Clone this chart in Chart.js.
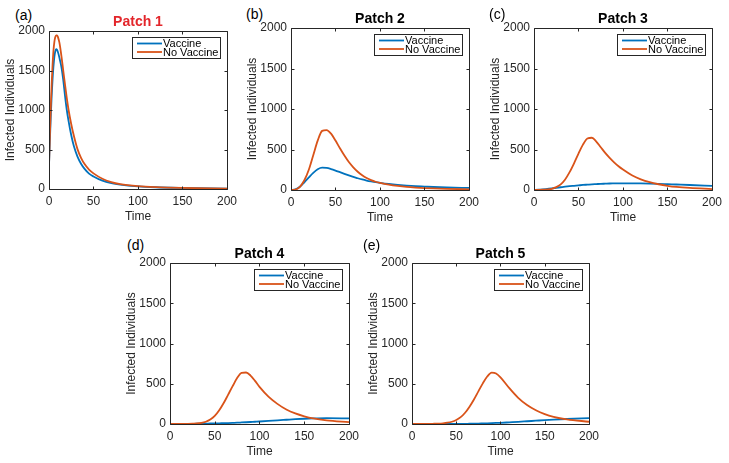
<!DOCTYPE html>
<html lang="en">
<head>
  <meta charset="UTF-8" />
  <title>Infected individuals per patch</title>
  <script src="https://cdn.jsdelivr.net/npm/chart.js"></script>
  <style>
    body {
      margin: 0;
      background: #ffffff;
    }
    #fig {
      position: relative;
      width: 729px;
      height: 463px;
      overflow: hidden;
      background: #ffffff;
      font-family: 'Liberation Sans', Arial, sans-serif;
    }
    .tag {
      position: absolute;
      font-size: 14px;
      line-height: 14px;
      color: #000000;
    }
  </style>
</head>
<body>
  <div id="fig"></div>

  <script>
    // ---- data ----
    const seriesLabels = ['Vaccine', 'No Vaccine'];
    const panelTitles = ['Patch 1', 'Patch 2', 'Patch 3', 'Patch 4', 'Patch 5'];
    const panelTags = ['(a)', '(b)', '(c)', '(d)', '(e)'];
    const xTicks = [0, 50, 100, 150, 200];
    const yTicks = [0, 500, 1000, 1500, 2000];

    const time1 = [0, 1, 2, 3, 4, 5, 6, 7, 8, 9, 10, 11, 12, 14, 16, 18, 20, 22, 25, 28, 32, 36, 40, 45, 50, 60, 70, 80, 100, 120, 150, 200];
    const vaccine1 = [300, 620, 920, 1180, 1390, 1550, 1670, 1740, 1770, 1762, 1735, 1695, 1645, 1540, 1380, 1180, 1000, 860, 680, 540, 410, 320, 255, 195, 158, 105, 74, 55, 33, 22, 14, 6];
    const noVaccine1 = [300, 680, 1030, 1330, 1570, 1750, 1860, 1920, 1945, 1945, 1925, 1885, 1835, 1680, 1500, 1320, 1150, 1000, 820, 670, 505, 395, 315, 245, 198, 130, 88, 62, 36, 23, 13, 6];

    const time2to5 = [0, 5, 10, 15, 20, 25, 30, 35, 40, 45, 50, 55, 60, 65, 70, 75, 80, 85, 90, 95, 100, 110, 120, 130, 140, 150, 160, 175, 200];
    const vaccine2 = [0, 8, 40, 95, 155, 212, 256, 276, 272, 258, 240, 220, 200, 180, 161, 145, 130, 117, 106, 96, 88, 74, 63, 54, 47, 42, 37, 31, 25];
    const noVaccine2 = [0, 6, 40, 120, 250, 430, 610, 730, 740, 695, 610, 515, 425, 345, 280, 225, 182, 148, 122, 102, 88, 66, 50, 38, 30, 24, 19, 14, 8];
    const vaccine3 = [0, 3, 8, 14, 20, 27, 34, 41, 47, 52, 57, 62, 66, 70, 73, 76, 78, 80, 81, 82, 82, 82, 81, 79, 76, 72, 68, 62, 50];
    const noVaccine3 = [0, 1, 3, 7, 15, 35, 70, 130, 220, 330, 450, 560, 635, 645, 598, 528, 458, 397, 342, 293, 252, 182, 132, 96, 71, 52, 38, 25, 12];
    const vaccine4 = [0, 0, 0, 1, 1, 2, 3, 4, 5, 6, 7, 9, 10, 12, 14, 16, 19, 22, 25, 28, 31, 38, 46, 53, 60, 65, 69, 72, 70];
    const noVaccine4 = [0, 0, 0, 0, 1, 3, 6, 13, 28, 55, 100, 170, 260, 365, 470, 570, 635, 640, 602, 535, 462, 340, 250, 180, 131, 96, 70, 46, 24];
    const vaccine5 = [0, 0, 0, 0, 0, 0, 0, 0, 1, 1, 1, 1, 2, 3, 4, 5, 7, 9, 11, 13, 15, 21, 27, 34, 41, 48, 54, 62, 72];
    const noVaccine5 = [0, 0, 0, 1, 1, 3, 5, 9, 16, 28, 50, 85, 140, 215, 305, 405, 505, 590, 638, 628, 580, 445, 325, 235, 170, 123, 90, 58, 28];

    const panelData = [
      { time: time1, vaccine: vaccine1, noVaccine: noVaccine1 },
      { time: time2to5, vaccine: vaccine2, noVaccine: noVaccine2 },
      { time: time2to5, vaccine: vaccine3, noVaccine: noVaccine3 },
      { time: time2to5, vaccine: vaccine4, noVaccine: noVaccine4 },
      { time: time2to5, vaccine: vaccine5, noVaccine: noVaccine5 }
    ];

    // ---- layout (page pixels of each plot box) ----
    const panelLayout = [
      { l: 49, t: 31, r: 230, b: 189, tagX: 15, tagY: 8 },
      { l: 291, t: 28, r: 472, b: 190, tagX: 246, tagY: 7 },
      { l: 534, t: 28, r: 715, b: 190, tagX: 489, tagY: 7 },
      { l: 170, t: 263, r: 352, b: 424, tagX: 127, tagY: 238 },
      { l: 412, t: 263, r: 592, b: 424, tagX: 363, tagY: 238 }
    ];
    const M = { left: 50, top: 30, right: 12, bottom: 40 };
    const FONT = "'Liberation Sans', Arial, sans-serif";
    const AXIS = '#262626';
    const BLUE = '#0072BD';
    const RED = '#D95319';

    // box with inward ticks, title and legend like a matlab axes
    const matlabAxes = {
      id: 'matlabAxes',
      afterDatasetsDraw(chart, args, opts) {
        const { ctx, chartArea: a, scales: { x, y } } = chart;
        ctx.save();
        ctx.strokeStyle = AXIS;
        ctx.lineWidth = 1;
        ctx.beginPath();
        const L = Math.round(a.left) + 0.5, R = Math.round(a.right) + 0.5;
        const T = Math.round(a.top) + 0.5, B = Math.round(a.bottom) + 0.5;
        ctx.rect(L, T, R - L, B - T);
        for (const t of x.ticks) {
          const px = Math.round(x.getPixelForValue(t.value)) + 0.5;
          ctx.moveTo(px, B); ctx.lineTo(px, B - 3);
          ctx.moveTo(px, T); ctx.lineTo(px, T + 3);
        }
        for (const t of y.ticks) {
          const py = Math.round(y.getPixelForValue(t.value)) + 0.5;
          ctx.moveTo(L, py); ctx.lineTo(L + 3, py);
          ctx.moveTo(R, py); ctx.lineTo(R - 3, py);
        }
        ctx.stroke();

        // title
        ctx.font = `bold 14px ${FONT}`;
        ctx.fillStyle = opts.titleColor;
        ctx.textAlign = 'center';
        ctx.textBaseline = 'alphabetic';
        ctx.fillText(opts.title, (a.left + a.right) / 2, a.top - 5);

        // legend
        ctx.font = `11px ${FONT}`;
        const sets = chart.data.datasets;
        const tw = Math.max(...sets.map(d => ctx.measureText(d.label).width));
        const lw = Math.round(31 + tw + 2), lh = 21;
        const lx = Math.round(a.right) - 7 - lw, ly = Math.round(a.top) + 6;
        ctx.fillStyle = '#ffffff';
        ctx.fillRect(lx, ly, lw, lh);
        ctx.strokeStyle = AXIS;
        ctx.strokeRect(lx + 0.5, ly + 0.5, lw, lh);
        ctx.textAlign = 'left';
        ctx.textBaseline = 'middle';
        sets.forEach((d, i) => {
          const yy = ly + 6.5 + i * 8.5;
          ctx.strokeStyle = d.borderColor;
          ctx.lineWidth = 1.8;
          ctx.beginPath();
          ctx.moveTo(lx + 5, yy);
          ctx.lineTo(lx + 30, yy);
          ctx.stroke();
          ctx.fillStyle = '#000000';
          ctx.fillText(d.label, lx + 31, yy + 0.5);
        });
        ctx.restore();
      }
    };

    const fig = document.getElementById('fig');

    panelData.forEach((p, i) => {
      const L = panelLayout[i];
      const w = L.r - L.l + M.left + M.right;
      const h = L.b - L.t + M.top + M.bottom;

      const tag = document.createElement('div');
      tag.className = 'tag';
      tag.style.left = L.tagX + 'px';
      tag.style.top = L.tagY + 'px';
      tag.textContent = panelTags[i];
      fig.appendChild(tag);

      const cv = document.createElement('canvas');
      cv.width = w;
      cv.height = h;
      cv.style.cssText = `position:absolute;left:${L.l - M.left}px;top:${L.t - M.top}px;width:${w}px;height:${h}px`;
      fig.appendChild(cv);

      const tickFont = { family: FONT, size: 12 };

      new Chart(cv.getContext('2d'), {
        type: 'line',
        data: {
          datasets: [
            {
              label: seriesLabels[0],
              data: p.time.map((t, k) => ({ x: t, y: p.vaccine[k] })),
              borderColor: BLUE,
              borderWidth: 1.8,
              pointRadius: 0,
              fill: false,
              cubicInterpolationMode: 'monotone',
              order: 1
            },
            {
              label: seriesLabels[1],
              data: p.time.map((t, k) => ({ x: t, y: p.noVaccine[k] })),
              borderColor: RED,
              borderWidth: 1.8,
              pointRadius: 0,
              fill: false,
              cubicInterpolationMode: 'monotone',
              order: 0
            }
          ]
        },
        options: {
          responsive: false,
          animation: false,
          devicePixelRatio: 1,
          layout: { padding: { left: 0, top: M.top, right: M.right, bottom: 0 } },
          plugins: {
            legend: { display: false },
            tooltip: { enabled: false },
            matlabAxes: { title: panelTitles[i], titleColor: i === 0 ? '#E3262B' : '#000000' }
          },
          scales: {
            x: {
              type: 'linear',
              min: 0,
              max: 200,
              afterBuildTicks: s => { s.ticks = xTicks.map(v => ({ value: v })); },
              afterFit: s => { s.height = M.bottom; },
              grid: { display: false, drawTicks: false },
              border: { display: false },
              ticks: { color: AXIS, font: tickFont, padding: 5, maxRotation: 0, autoSkip: false, callback: v => String(v) },
              title: { display: true, text: 'Time', color: AXIS, font: tickFont, padding: { top: 0, bottom: 5 } }
            },
            y: {
              type: 'linear',
              min: 0,
              max: 2000,
              afterBuildTicks: s => { s.ticks = yTicks.map(v => ({ value: v })); },
              afterFit: s => { s.width = M.left; },
              grid: { display: false, drawTicks: false },
              border: { display: false },
              ticks: { color: AXIS, font: tickFont, padding: 4, autoSkip: false, callback: v => String(v) },
              title: { display: true, text: 'Infected Individuals', color: AXIS, font: tickFont, padding: { top: 4, bottom: 0 } }
            }
          }
        },
        plugins: [matlabAxes]
      });
    });
  </script>
</body>
</html>
